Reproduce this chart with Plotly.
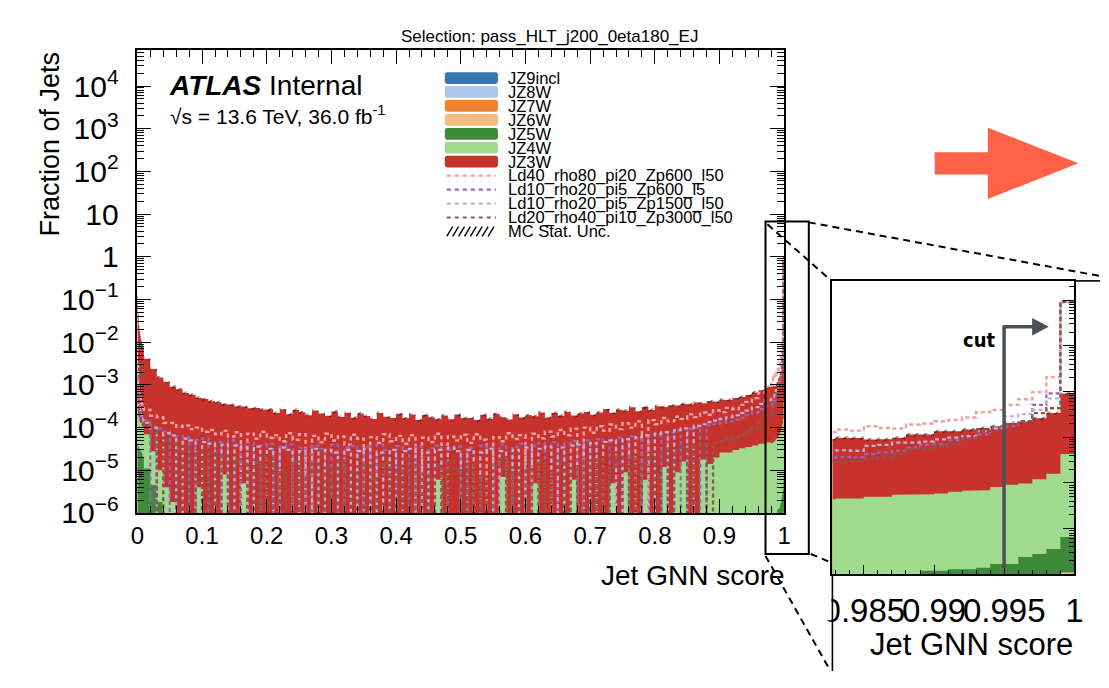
import numpy as np
import plotly.graph_objects as go

W, H = 1109, 688
FONT = "Liberation Sans, Arial, Helvetica, sans-serif"
UNIT = 1e-6      # every value below is in units of 1e-6 (fraction of jets per bin)
FLOOR = 1e-9     # empty bins are drawn down below the axis floor (ROOT style)

# ---------------------------------------------------------------- binning
BIN_EDGES = np.concatenate([
    np.round(0.001 * np.arange(0, 10), 3),        # 0.000 ... 0.009 (fine)
    np.round(0.01 * np.arange(1, 98), 2),          # 0.01 ... 0.97   (coarse)
    np.round(0.98 + 0.001 * np.arange(0, 21), 3),  # 0.980 ... 1.000 (fine)
])
N_BINS = len(BIN_EDGES) - 1

# ---------------------------------------------------------------- background samples (stacked)
JZ3W = ([119800, 44810, 24825, 17840, 13850, 11860, 9870, 8880, 8090, 7400]
        + [4030, 2322, 1490, 1176, 908, 789, 650, 585, 496, 465,
           415, 392, 347, 342, 318, 307, 285, 288, 262, 268,
           220, 268, 205, 258, 228, 196, 250, 214, 190, 240,
           178, 224, 170, 214, 186, 160, 220, 180, 168, 210,
           165, 204, 150, 198, 172, 152, 192, 158, 204, 165,
           170, 150, 200, 162, 210, 168, 155, 205, 172, 196,
           180, 226, 172, 220, 190, 236, 186, 214, 232, 200,
           226, 272, 214, 262, 240, 300, 242, 296, 258, 318,
           290, 332, 319, 346, 348, 388, 354, 404, 382, 426,
           418, 462, 491, 543, 626, 710, 845]
        + [908, 955, 876, 934, 914, 840, 850, 925, 1095, 1093,
           1291, 1286, 1402, 1531, 1658, 1959, 2103, 2480, 3240, 8670])

JZ4W = ([160, 153, 141, 128, 120, 112, 104, 96, 88, 80]
        + [59, 23.5, 8.2, 3.2, 1.5, 0.9, 0, 0, 4, 0,
           0, 0, 8, 0, 0, 5, 0, 0, 0, 0,
           0, 0, 0, 0, 0, 0, 0, 0, 0, 0,
           0, 0, 0, 0, 0, 0, 0, 0, 0, 0,
           0, 0, 0, 0, 0, 6, 0, 0, 0, 0,
           0, 0, 0, 0, 0, 7, 0, 0, 0, 0,
           5, 0, 0, 0, 0, 0, 6, 0, 0, 0,
           0, 0, 5, 0, 9, 0, 0, 6, 0, 0,
           12, 0, 9, 16, 0, 0, 18, 14, 20, 26,
           26, 30, 33, 34.8, 37.7, 41.6, 44.5]
        + [41.5, 44.4, 43.5, 45.4, 45.3, 49.4, 49.2, 54.1, 54.0, 55.8,
           57.8, 62.7, 66.7, 67.6, 80.3, 89.3, 94.6, 117.2, 156.4, 424.5])

JZ5W = ([40, 37, 34, 32, 30, 28, 26, 24, 22, 20]
        + [11, 4.5, 1.8, 0.8, 0.3, 0, 0, 0, 0, 0,
           0, 0, 0, 0, 0, 0, 0, 0, 0, 0,
           0, 0, 0, 0, 0, 0, 0, 0, 0, 0,
           0, 0, 0, 0, 0, 0, 0, 0, 0, 0,
           0, 0, 0, 0, 0, 0, 0, 0, 0, 0,
           0, 0, 0, 0, 0, 0, 0, 0, 0, 0,
           0, 0, 0, 0, 0, 0, 0, 0, 0, 0,
           0, 0, 0, 0, 0, 0, 0, 0, 0, 0,
           0, 0, 0, 0, 0, 0, 0, 0, 0, 0,
           0, 0, 0, 0.2, 0.3, 0.4, 0.5]
        + [0.5, 0.6, 0.5, 0.6, 0.7, 0.6, 0.8, 0.9, 1.0, 1.2,
           1.2, 1.3, 1.3, 1.4, 1.7, 1.7, 2.4, 2.8, 3.6, 5.5])

# nearly empty high-pT slices: {bin index: value}
JZ6W = {0: 2.0, 1: 0.6, 126: 0.8}
JZ7W = {0: 0.6, 126: 0.3}
JZ8W = {0: 0.2}
JZ9INCL = {0: 0.1}

# ---------------------------------------------------------------- signal samples
LD40_RHO80_PI20_ZP600_L50 = (
    [3000, 1200, 800, 600, 500, 430, 380, 340, 310, 290]
    + [260, 190, 175, 130, 128, 105, 112, 92, 100, 80,
       88, 70, 84, 62, 78, 0, 72, 55, 80, 58,
       66, 48, 74, 52, 70, 0, 64, 45, 72, 50,
       62, 40, 68, 55, 0, 60, 44, 70, 48, 64,
       42, 66, 0, 58, 46, 72, 40, 62, 50, 68,
       44, 70, 52, 0, 60, 48, 74, 54, 66, 0,
       72, 56, 80, 62, 88, 66, 94, 0, 100, 76,
       108, 84, 118, 92, 126, 100, 140, 0, 150, 120,
       168, 140, 180, 160, 205, 176, 225, 200, 255, 230,
       290, 270, 340, 400, 490, 650, 900]
    + [1150, 1250, 1300, 1480, 1400, 1740, 1600, 1550, 1900, 2000,
       2240, 2400, 2700, 3540, 3970, 5100, 6800, 9800, 20700, 880000])

LD10_RHO20_PI5_ZP600_L5 = (
    [1500, 600, 400, 310, 260, 225, 200, 185, 170, 160]
    + [150, 0, 95, 82, 0, 64, 60, 0, 52, 56,
       0, 46, 0, 50, 40, 0, 44, 0, 38, 42,
       0, 36, 40, 0, 34, 0, 38, 32, 0, 40,
       0, 34, 38, 0, 36, 0, 40, 30, 0, 37,
       31, 0, 36, 0, 33, 38, 0, 30, 36, 0,
       34, 0, 38, 32, 0, 40, 0, 36, 42, 0,
       38, 44, 0, 46, 0, 42, 48, 0, 50, 0,
       54, 48, 0, 58, 0, 62, 56, 0, 68, 64,
       0, 76, 84, 0, 92, 100, 0, 112, 120, 130,
       140, 155, 170, 195, 225, 270, 320]
    + [330, 340, 360, 375, 363, 427, 465, 505, 595, 680,
       700, 855, 980, 1150, 1600, 1740, 2240, 5100, 9100, 930000])

LD10_RHO20_PI5_ZP1500_L50 = (
    [1200, 500, 340, 270, 225, 195, 175, 160, 150, 140]
    + [130, 100, 0, 74, 66, 0, 55, 50, 0, 46,
       42, 0, 40, 0, 38, 34, 0, 36, 0, 32,
       0, 34, 30, 0, 28, 0, 32, 0, 30, 26,
       0, 30, 0, 28, 32, 0, 26, 0, 30, 0,
       28, 32, 0, 26, 0, 30, 0, 34, 28, 0,
       30, 0, 26, 32, 0, 28, 0, 30, 0, 34,
       0, 32, 36, 0, 34, 0, 38, 40, 0, 44,
       0, 46, 50, 0, 54, 0, 60, 66, 0, 72,
       78, 0, 88, 96, 0, 110, 120, 135, 145, 160,
       175, 195, 220, 250, 300, 360, 440]
    + [470, 480, 500, 520, 505, 645, 680, 760, 760, 800,
       895, 980, 1060, 1360, 1550, 2870, 3200, 3970, 7100, 950000])

LD20_RHO40_PI10_ZP3000_L50 = (
    [900, 380, 260, 200, 170, 150, 138, 128, 120, 115]
    + [110, 80, 0, 52, 44, 0, 36, 0, 30, 0,
       26, 0, 22, 0, 18, 16, 0, 15, 0, 19,
       0, 9, 0, 15, 0, 8, 14, 0, 11, 0,
       17, 0, 9, 0, 13, 0, 7, 15, 0, 12,
       0, 18, 0, 8, 0, 13, 0, 16, 10, 0,
       14, 0, 7, 0, 13, 19, 0, 9, 0, 12,
       0, 15, 0, 8, 16, 0, 11, 0, 17, 0,
       18, 0, 12, 21, 0, 22, 0, 15, 24, 0,
       28, 0, 31, 34, 0, 36, 40, 0, 44, 48,
       52, 60, 68, 80, 100, 130, 200]
    + [270, 280, 290, 298, 307, 333, 363, 427, 545, 575,
       645, 760, 940, 1380, 1400, 1960, 2240, 3370, 4300, 920000])

MC_STAT_REL_UNC = 0.08

# ---------------------------------------------------------------- names / colours / styles
BKG_NAMES = ["JZ9incl", "JZ8W", "JZ7W", "JZ6W", "JZ5W", "JZ4W", "JZ3W"]   # stack bottom -> top
BKG_COLORS = ["#3a76b2", "#aec7e8", "#f08232", "#f5bb80", "#3d8a39", "#a0da8c", "#c7322d"]
SIG_NAMES = ["Ld40_rho80_pi20_Zp600_l50", "Ld10_rho20_pi5_Zp600_l5",
             "Ld10_rho20_pi5_Zp1500_l50", "Ld20_rho40_pi10_Zp3000_l50"]
SIG_COLORS = ["#f4a09c", "#9467bd", "#c5b0d5", "#8c564b"]
SIG_WIDTHS = [2.4, 2.2, 2.2, 2.4]


def dense(sparse):
    a = np.zeros(N_BINS)
    for k, v in sparse.items():
        a[k] = v
    return a


bkg = [dense(JZ9INCL), dense(JZ8W), dense(JZ7W), dense(JZ6W),
       np.array(JZ5W, float), np.array(JZ4W, float), np.array(JZ3W, float)]
sig = [np.array(s, float) for s in (LD40_RHO80_PI20_ZP600_L50, LD10_RHO20_PI5_ZP600_L5,
                                    LD10_RHO20_PI5_ZP1500_L50, LD20_RHO40_PI10_ZP3000_L50)]
for arr in bkg + sig:
    assert len(arr) == N_BINS, len(arr)
bkg = [b * UNIT for b in bkg]
sig = [s * UNIT for s in sig]
cumulative = np.cumsum(np.vstack(bkg), axis=0)
total = cumulative[-1]


def steps(vals):
    v = np.where(np.asarray(vals) > 0, vals, FLOOR)
    xs = np.repeat(BIN_EDGES, 2)[1:-1]
    ys = np.repeat(v, 2)
    return xs, ys


fig = go.Figure()


def add_panel(xa, ya):
    # stacked fills (draw top of stack first)
    for k in range(len(bkg) - 1, -1, -1):
        xs, ys = steps(cumulative[k])
        fig.add_trace(go.Scatter(
            x=np.concatenate([xs, [BIN_EDGES[-1], BIN_EDGES[0]]]),
            y=np.concatenate([ys, [FLOOR, FLOOR]]),
            mode="lines", fill="toself", fillcolor=BKG_COLORS[k],
            line=dict(width=0, color=BKG_COLORS[k]), hoverinfo="skip",
            xaxis=xa, yaxis=ya, showlegend=False))
    # MC stat. uncertainty band
    xs, yu = steps(total * (1 + MC_STAT_REL_UNC))
    _, yl = steps(total * (1 - MC_STAT_REL_UNC))
    fig.add_trace(go.Scatter(
        x=np.concatenate([xs, xs[::-1]]), y=np.concatenate([yu, yl[::-1]]),
        mode="lines", fill="toself", fillcolor="rgba(0,0,0,0)",
        fillpattern=dict(shape="/", fgcolor="black", bgcolor="rgba(0,0,0,0)",
                         size=6, solidity=0.3),
        line=dict(width=0), hoverinfo="skip", xaxis=xa, yaxis=ya, showlegend=False))
    # signals
    for s, c, w in zip(sig, SIG_COLORS, SIG_WIDTHS):
        xs, ys = steps(s)
        fig.add_trace(go.Scatter(
            x=xs, y=ys, mode="lines", line=dict(color=c, width=w, dash="4px,3px"),
            hoverinfo="skip", xaxis=xa, yaxis=ya, showlegend=False))


add_panel("x", "y")
add_panel("x2", "y2")


def px(x):
    return x / W


def py(y):
    return 1 - y / H


SUP = {-6: "−6", -5: "−5", -4: "−4", -3: "−3", -2: "−2", -1: "−1"}
ytv = [10.0 ** k for k in range(-6, 5)]
ytt = []
for k in range(-6, 5):
    if k == 0:
        ytt.append("1")
    elif k == 1:
        ytt.append("10")
    else:
        ytt.append("10<sup>%s</sup>" % (SUP.get(k, str(k))))
y_minor = [m * 10.0 ** k for k in range(-7, 5) for m in range(2, 10)]

xtv = [round(0.1 * i, 1) for i in range(11)]
xtt = ["0"] + ["%.1f" % v for v in xtv[1:-1]] + ["1"]
x_minor = [round(0.02 * j, 2) for j in range(1, 50) if j % 5 != 0]

axis_common = dict(showline=True, linecolor="black", linewidth=1.6, ticks="inside",
                   tickcolor="black", tickwidth=1.2, showgrid=False, zeroline=False)

fig.update_layout(
    width=W, height=H, margin=dict(l=0, r=0, t=0, b=0, pad=0),
    paper_bgcolor="white", plot_bgcolor="white", showlegend=False,
    font=dict(family=FONT, color="black"),
    xaxis=dict(domain=[130.5 / W, 788 / W], range=[0, 1], anchor="y",
               mirror="allticks", ticklen=14, tickmode="array", tickvals=xtv, ticktext=xtt,
               tickfont=dict(size=24, family=FONT), tickangle=0,
               minor=dict(tickmode="array", tickvals=x_minor, ticks="inside", ticklen=7,
                          tickwidth=1.2, tickcolor="black"),
               **axis_common),
    yaxis=dict(domain=[py(526), py(51)], type="log", range=[-6, 4.85], anchor="x",
               mirror="allticks", ticklen=14, tickmode="array", tickvals=ytv, ticktext=ytt,
               tickfont=dict(size=30, family=FONT), ticklabelstandoff=11,
               minor=dict(tickmode="array", tickvals=y_minor, ticks="inside", ticklen=7,
                          tickwidth=1.2, tickcolor="black"),
               **axis_common),
    xaxis2=dict(domain=[837 / W, 1083 / W], range=[0.98276, 1.0], anchor="y2",
                mirror=True, ticklen=10, tickmode="array",
                tickvals=[0.985, 0.99, 0.995, 1.0], ticktext=["0.985", "0.99", "0.995", "1"],
                tickfont=dict(size=33, family=FONT), tickangle=0, ticklabelstandoff=6,
                minor=dict(tickmode="array",
                           tickvals=[round(0.983 + 0.001 * j, 3) for j in range(17)
                                     if j not in (2, 7, 12)],
                           ticks="inside", ticklen=5, tickwidth=1.2, tickcolor="black"),
                **axis_common),
    yaxis2=dict(domain=[py(589), py(288)], type="log", range=[-6, 0.42], anchor="x2",
                side="right", mirror=True, ticklen=12, tickmode="array",
                tickvals=[10.0 ** k for k in range(-6, 1)], showticklabels=False,
                minor=dict(tickmode="array", tickvals=y_minor, ticks="inside", ticklen=6,
                           tickwidth=1.2, tickcolor="black"),
                **axis_common),
)


def pt(x, y):
    return "%.5f,%.5f" % (px(x), py(y))


def poly(points):
    return "M " + " L ".join(pt(x, y) for x, y in points) + " Z"


def rrect(x0, y0, x1, y1, r):
    return ("M %s L %s Q %s %s L %s Q %s %s L %s Q %s %s L %s Q %s %s Z" % (
        pt(x0 + r, y0), pt(x1 - r, y0), pt(x1, y0), pt(x1, y0 + r), pt(x1, y1 - r),
        pt(x1, y1), pt(x1 - r, y1), pt(x0 + r, y1), pt(x0, y1), pt(x0, y1 - r),
        pt(x0, y0 + r), pt(x0, y0), pt(x0 + r, y0)))


def seg(x0, y0, x1, y1, color="black", width=2, dash="solid"):
    return dict(type="line", xref="paper", yref="paper", x0=px(x0), y0=py(y0),
                x1=px(x1), y1=py(y1), line=dict(color=color, width=width, dash=dash),
                layer="above")


shapes = []
# inset screenshot edge: hides the part of the first inset tick label left of the frame
shapes.append(dict(type="rect", xref="paper", yref="paper", x0=px(812), x1=px(836),
                   y0=py(636), y1=py(596), fillcolor="white", line=dict(width=0),
                   layer="above"))
# zoom box on main plot and connectors
shapes.append(dict(type="rect", xref="paper", yref="paper", x0=px(769), x1=px(813),
                   y0=py(568), y1=py(227), line=dict(color="black", width=2), layer="above"))
DASH = "7px,5px"
shapes += [seg(813, 228, 1109, 283, dash=DASH), seg(771, 230, 836, 288, dash=DASH),
           seg(815, 568, 836, 577, dash=DASH), seg(769, 570, 835, 688, dash=DASH)]
shapes += [seg(1083, 288, 1109, 288, width=1.6), seg(837, 589, 837, 688, width=1.6)]
# big orange arrow
shapes.append(dict(type="path", xref="paper", yref="paper", layer="above",
                   path=poly([(941, 156), (995, 156), (995, 131), (1087, 167.5), (995, 204),
                              (995, 179), (941, 179)]),
                   fillcolor="#fe6249", line=dict(width=0)))
# cut arrow in the inset
CUT_COLOR = "#4b5058"
shapes += [seg(1011.5, 583, 1011.5, 335, color=CUT_COLOR, width=3.5),
           seg(1010, 335, 1042, 335, color=CUT_COLOR, width=3.5)]
shapes.append(dict(type="path", xref="paper", yref="paper", layer="above",
                   path=poly([(1040, 326), (1057, 335), (1040, 344)]),
                   fillcolor=CUT_COLOR, line=dict(width=0)))

# legend
ROW0, DROW = 80.0, 14.3
legend_labels = BKG_NAMES + SIG_NAMES + ["MC Stat. Unc."]
annotations = []
for i, name in enumerate(legend_labels):
    yc = ROW0 + DROW * i
    if i < len(BKG_NAMES):
        shapes.append(dict(type="path", xref="paper", yref="paper", layer="above",
                           path=rrect(443, yc - 6, 497, yc + 6, 2.5),
                           fillcolor=BKG_COLORS[i], line=dict(width=0)))
    elif i < len(BKG_NAMES) + len(SIG_NAMES):
        c = SIG_COLORS[i - len(BKG_NAMES)]
        shapes.append(seg(445, yc, 495, yc, color=c, width=2.2, dash="4px,4px"))
    else:
        for j in range(8):
            x0 = 445 + 6 * j
            shapes.append(seg(x0, yc + 5, x0 + 6, yc - 5, width=1.4))
    annotations.append(dict(x=px(506), y=py(yc), xref="paper", yref="paper", text=name,
                            showarrow=False, xanchor="left", yanchor="middle",
                            font=dict(size=16.5, family=FONT, color="black"), borderpad=0))


def label(x, y, text, size, xanchor="left", yanchor="middle", **kw):
    d = dict(x=px(x), y=py(y), xref="paper", yref="paper", text=text, showarrow=False,
             xanchor=xanchor, yanchor=yanchor, borderpad=0,
             font=dict(size=size, family=kw.pop("family", FONT), color="black"))
    d.update(kw)
    return d


annotations += [
    label(549, 37, "Selection: pass_HLT_j200_0eta180_EJ", 17, xanchor="center"),
    label(162, 88, "<b><i>ATLAS</i></b> Internal", 28),
    label(163, 118, "√s = 13.6 TeV, 36.0 fb<sup>-1</sup>", 21),
    label(42, 52, "Fraction of Jets", 27, xanchor="center", yanchor="top", textangle=-90),
    label(790, 590, "Jet GNN score", 28, xanchor="right"),
    label(1083, 661, "Jet GNN score", 31, xanchor="right"),
    label(986, 349, "<b>cut</b>", 20, xanchor="center",
          family="Liberation Sans Narrow, DejaVu Sans Condensed, Liberation Sans, sans-serif"),
]

fig.update_layout(shapes=shapes, annotations=annotations)

PAGE_FIX = ("document.documentElement.style.cssText='margin:0;padding:0;overflow:hidden;';"
            "document.body.style.cssText='margin:0;padding:0;overflow:hidden;';")

fig.write_html("out.html", config={"displayModeBar": False}, post_script=PAGE_FIX)
